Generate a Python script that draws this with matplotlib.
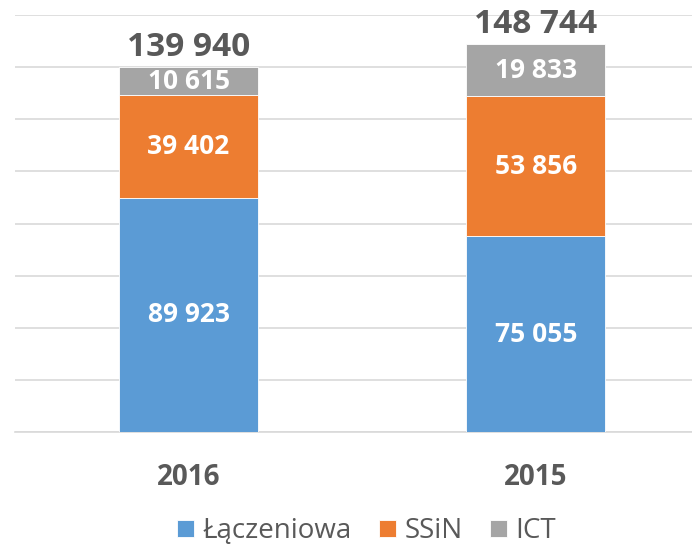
import matplotlib.pyplot as plt
import numpy as np

# data
years = ["2016", "2015"]
laczeniowa = [89923, 75055]
ssin = [39402, 53856]
ict = [10615, 19833]
totals = [139940, 148744]
series_names = ["Łączeniowa", "SSiN", "ICT"]
colors = ["#5B9BD5", "#ED7D31", "#A5A5A5"]

plt.rcParams["font.family"] = "Open Sans"


def fmt(v):
    return f"{v:,}".replace(",", " ")


fig = plt.figure(figsize=(6.92, 5.49), dpi=100)
ax = fig.add_axes([15 / 692, 117 / 549, 677 / 692, 417 / 549])

x = np.arange(len(years))
width = 0.40
bottom = np.zeros(len(years))
for vals, name, col in zip([laczeniowa, ssin, ict], series_names, colors):
    bars = ax.bar(x, vals, width, bottom=bottom, color=col, label=name,
                  edgecolor="white", linewidth=0.6, zorder=3)
    for xi, b, v in zip(x, bottom, vals):
        ax.text(xi, b + v / 2, fmt(v), ha="center", va="center",
                color="white", fontsize=19, fontweight="bold", zorder=4)
    bottom += np.array(vals)

for xi, t in zip(x, totals):
    ax.text(xi, t + 1200, fmt(t), ha="center", va="bottom",
            color="#595959", fontsize=24, fontweight="bold")

ax.set_ylim(0, 160000)
ax.set_xlim(-0.5, 1.45)
ax.set_yticks(np.arange(0, 160001, 20000))
ax.yaxis.grid(True, color="#D9D9D9", linewidth=1.2, zorder=0)
ax.tick_params(axis="y", left=False, labelleft=False)
ax.tick_params(axis="x", length=0, pad=22)
ax.set_xticks(x)
ax.set_xticklabels(years, fontsize=20, fontweight="bold", color="#595959")
for s in ["top", "right", "left"]:
    ax.spines[s].set_visible(False)
ax.spines["bottom"].set_color("#D9D9D9")
ax.spines["bottom"].set_linewidth(1.2)

fig.legend(loc="center", bbox_to_anchor=(0.53, 0.032), ncol=3, frameon=False,
           fontsize=20, handlelength=0.6, handleheight=0.6,
           handletextpad=0.3, columnspacing=1.0, labelcolor="#595959",
           borderpad=0.1)

fig.savefig("out.png", dpi=100)
